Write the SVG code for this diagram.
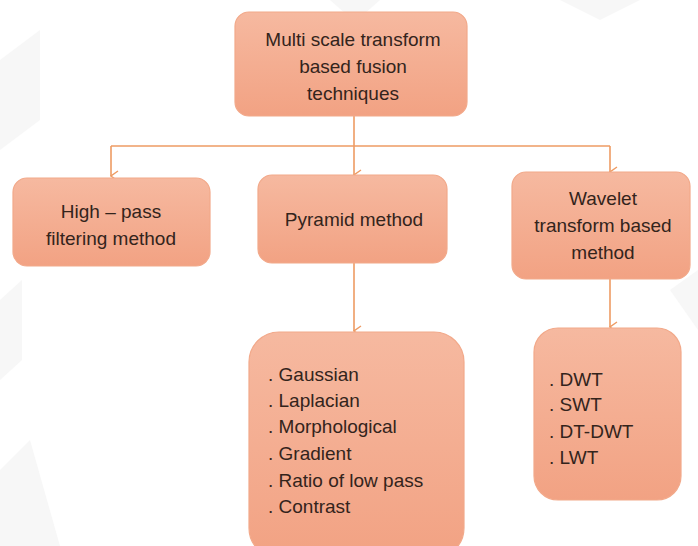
<svg xmlns="http://www.w3.org/2000/svg" width="698" height="546" viewBox="0 0 698 546">
  <style>
    .box { fill: url(#boxFill); stroke: #f2a98a; stroke-width: 1.2; }
    .lbl { font-family: "Liberation Sans", "DejaVu Sans", sans-serif; font-size: 19px; fill: #33241c; }
    .mid { text-anchor: middle; }
    .wire { fill: none; stroke: #ee9b63; stroke-width: 1.6; }
    .wm { fill: #f7f7f7; }
  </style>
  <defs>
    <linearGradient id="boxFill" x1="0" y1="0" x2="0" y2="1">
      <stop offset="0" stop-color="#f6b9a0"/>
      <stop offset="1" stop-color="#f2a283"/>
    </linearGradient>
    <marker id="chev" viewBox="0 0 12 10" refX="6" refY="9" markerWidth="12" markerHeight="10" markerUnits="userSpaceOnUse" orient="auto-start-reverse">
      <polyline points="1,2 6,9 11,2" fill="none" stroke="#ee9b63" stroke-width="1.4"/>
    </marker>
  </defs>

  <rect width="698" height="546" fill="#ffffff"/>
  <!-- faint background watermark shapes -->
  <g id="watermark">
    <polygon class="wm" points="330,0 380,0 355,22"/>
    <polygon class="wm" points="0,60 40,30 40,120 0,150"/>
    <polygon class="wm" points="0,300 22,280 22,360 0,380"/>
    <polygon class="wm" points="0,470 30,440 60,546 0,546"/>
    <polygon class="wm" points="560,0 640,0 600,20"/>
    <polygon class="wm" points="670,290 698,270 698,330"/>
  </g>

  <!-- connectors -->
  <g id="connectors">
    <polyline class="wire" points="354,116 354,146"/>
    <polyline class="wire" points="111,146 610,146"/>
    <line class="wire" x1="111" y1="146" x2="111" y2="176" marker-end="url(#chev)"/>
    <line class="wire" x1="354" y1="146" x2="354" y2="175" marker-end="url(#chev)"/>
    <line class="wire" x1="610" y1="146" x2="610" y2="172" marker-end="url(#chev)"/>
    <line class="wire" x1="354" y1="263" x2="354" y2="331" marker-end="url(#chev)"/>
    <line class="wire" x1="610" y1="279" x2="610" y2="327" marker-end="url(#chev)"/>
  </g>

  <g id="root">
    <rect class="box" x="235" y="12" width="232" height="104" rx="14"/>
    <text class="lbl mid" x="353" y="46">Multi scale transform</text>
    <text class="lbl mid" x="353" y="73">based fusion</text>
    <text class="lbl mid" x="353" y="100">techniques</text>
  </g>

  <g id="highpass">
    <rect class="box" x="13" y="178" width="197" height="88" rx="14"/>
    <text class="lbl mid" x="111" y="218">High – pass</text>
    <text class="lbl mid" x="111" y="245">filtering method</text>
  </g>

  <g id="pyramid">
    <rect class="box" x="258" y="175" width="189" height="88" rx="14"/>
    <text class="lbl mid" x="354" y="226">Pyramid method</text>
  </g>

  <g id="wavelet">
    <rect class="box" x="512" y="172" width="178" height="107" rx="14"/>
    <text class="lbl mid" x="603" y="205">Wavelet</text>
    <text class="lbl mid" x="603" y="232">transform based</text>
    <text class="lbl mid" x="603" y="259">method</text>
  </g>

  <g id="pyramid-types">
    <rect class="box" x="249" y="332" width="215" height="226" rx="30"/>
    <text class="lbl" x="268" y="381">. Gaussian</text>
    <text class="lbl" x="268" y="407">. Laplacian</text>
    <text class="lbl" x="268" y="433">. Morphological</text>
    <text class="lbl" x="268" y="460">. Gradient</text>
    <text class="lbl" x="268" y="487">. Ratio of low pass</text>
    <text class="lbl" x="268" y="513">. Contrast</text>
  </g>

  <g id="wavelet-types">
    <rect class="box" x="534" y="328" width="147" height="172" rx="24"/>
    <text class="lbl" x="549" y="386">. DWT</text>
    <text class="lbl" x="549" y="411">. SWT</text>
    <text class="lbl" x="549" y="438">. DT-DWT</text>
    <text class="lbl" x="549" y="464">. LWT</text>
  </g>
</svg>
